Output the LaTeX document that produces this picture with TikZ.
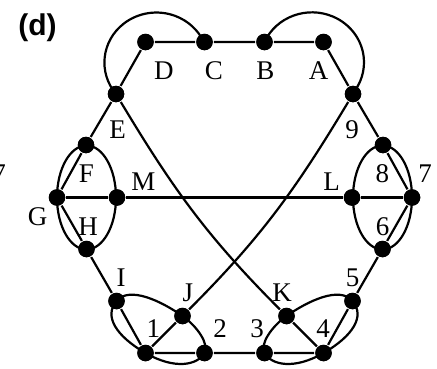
\documentclass[tikz,border=0pt]{standalone}
\usepackage{fontspec}
\setmainfont{Liberation Serif}
\newfontfamily\labsans{Liberation Sans}
\begin{document}
\begin{tikzpicture}[x=1pt,y=1pt,line width=2.2pt,
  dot/.style={circle,fill=black,inner sep=0pt,minimum size=16.5pt},
  lab/.style={anchor=base,inner sep=0pt,font=\fontsize{27}{27}\selectfont},
  ttl/.style={anchor=base,inner sep=0pt,font=\labsans\bfseries\fontsize{30}{30}\selectfont}]
\useasboundingbox (0,0) rectangle (437,368);
\clip (0,0) rectangle (437,368);
% dots
\node[dot] (pD) at (145.5,326) {};
\node[dot] (pC) at (204.5,326) {};
\node[dot] (pB) at (264.5,326) {};
\node[dot] (pA) at (323.5,326) {};
\node[dot] (pE) at (116,274) {};
\node[dot] (p9) at (353,274) {};
\node[dot] (pF) at (86,223) {};
\node[dot] (p8) at (383,223) {};
\node[dot] (pG) at (57,170.5) {};
\node[dot] (p7) at (412,170.5) {};
\node[dot] (pM) at (117,170.5) {};
\node[dot] (pL) at (352,170.5) {};
\node[dot] (pH) at (86.5,119) {};
\node[dot] (p6) at (382.5,119) {};
\node[dot] (pI) at (116.5,67) {};
\node[dot] (p5) at (352.5,67) {};
\node[dot] (pJ) at (182.5,52) {};
\node[dot] (pK) at (286.5,52) {};
\node[dot] (p1) at (145.5,15) {};
\node[dot] (p4) at (323.5,15) {};
\node[dot] (p2) at (204.5,15) {};
\node[dot] (p3) at (264.5,15) {};
\coordinate (cl) at (86.5,170.5);
\coordinate (cr) at (382.5,170.5);
% hexagon
\draw (pD) -- (pC) -- (pB) -- (pA) -- (p9) -- (p8) -- (p7) -- (p6) -- (p5) -- (p4)
  -- (p3) -- (p2) -- (p1) -- (pI) -- (pH) -- (pG) -- (pF) -- (pE) -- (pD);
% horizontal
\draw (pG) -- (pM) -- (pL) -- (p7);
% crossing curves
\draw (pE) to[out=-59,in=135] (pK) -- (p4);
\draw (p9) to[out=-121,in=45] (pJ) -- (p1);
% side ellipses
\draw (cl) ellipse[x radius=29.5,y radius=52];
\draw (cr) ellipse[x radius=29.5,y radius=52];
% top arcs
\draw (pE.center) arc[start angle=219,end angle=24,x radius=52,y radius=50];
\draw (pB.center) arc[start angle=156,end angle=-39,x radius=52,y radius=50];
% bottom ovals
\draw (pI.center) .. controls +(50:20) and +(145:26) .. (pJ.center)
  .. controls +(-35:18) and +(60:10) .. (p2.center)
  .. controls +(240:14) and +(-30:34) .. (p1.center)
  .. controls +(150:34) and +(230:20) .. (pI.center);
\draw (p5.center) .. controls +(130:20) and +(35:26) .. (pK.center)
  .. controls +(215:18) and +(120:10) .. (p3.center)
  .. controls +(-60:14) and +(210:34) .. (p4.center)
  .. controls +(30:34) and +(-50:20) .. (p5.center);
% dots on top of the lines
\foreach \n in {pD,pC,pB,pA,pE,p9,pF,p8,pG,p7,pM,pL,pH,p6,pI,p5,pJ,pK,p1,p4,p2,p3}
  \fill (\n.center) circle (8.25pt);
% labels
\node[ttl] (title) at (37.5,332.6) {(d)};
\node[lab] (tD) at (163.8,289) {D};
\node[lab] (tC) at (214,289) {C};
\node[lab] (tB) at (265.3,289) {B};
\node[lab] (tA) at (318.7,289) {A};
\node[lab] (tE) at (117.5,229.7) {E};
\node[lab] (t9) at (352,229.7) {9};
\node[lab] (tF) at (86.3,185.5) {F};
\node[lab] (t8) at (382.3,185.5) {8};
\node[lab] (t7) at (425,185.5) {7};
\node[lab] (t7b) at (-1,185.5) {7};
\node[lab] (tM) at (143.3,178) {M};
\node[lab] (tL) at (331.5,178) {L};
\node[lab] (tG) at (37.5,143) {G};
\node[lab] (tH) at (88,133) {H};
\node[lab] (t6) at (382.5,133) {6};
\node[lab] (tI) at (121,82) {I};
\node[lab] (t5) at (352.5,82) {5};
\node[lab] (tJ) at (188,66.3) {J};
\node[lab] (tK) at (282,66.3) {K};
\node[lab] (t1) at (153.3,31) {1};
\node[lab] (t2) at (220,31) {2};
\node[lab] (t3) at (257,31) {3};
\node[lab] (t4) at (323,31) {4};
\end{tikzpicture}
\end{document}
